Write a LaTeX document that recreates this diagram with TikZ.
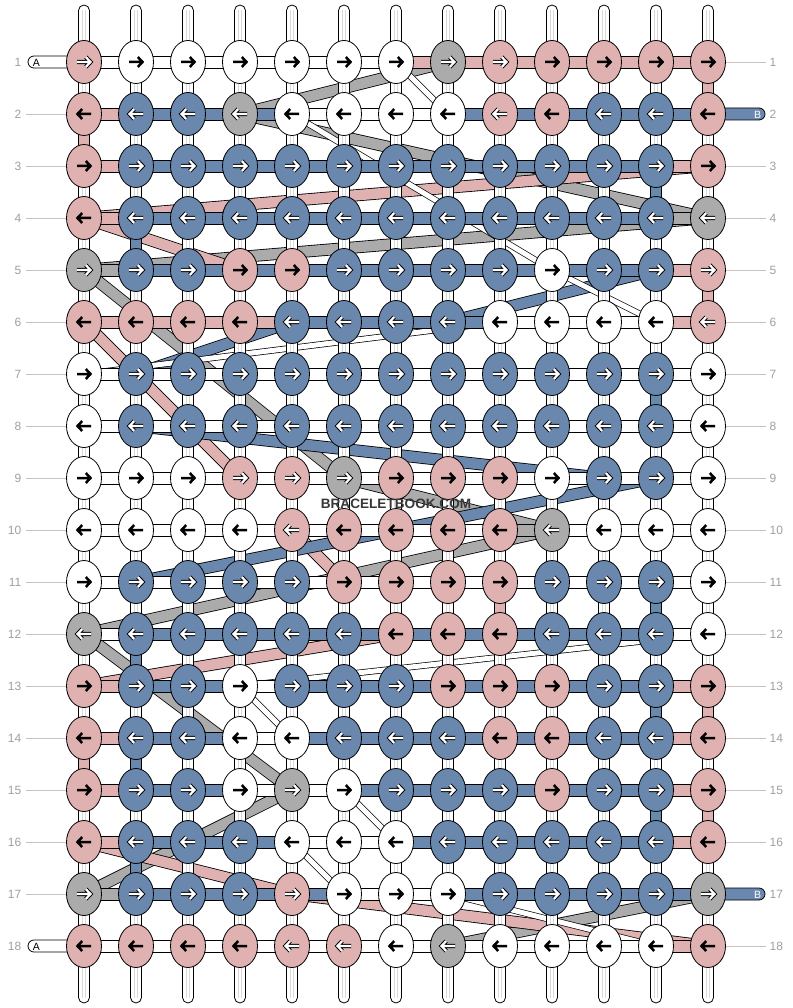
\documentclass[tikz,border=0pt]{standalone}
\usepackage{fontspec}
\setmainfont{Liberation Sans}
\usetikzlibrary{shapes.geometric,calc}
\definecolor{pk}{HTML}{DFB1B0}
\definecolor{bl}{HTML}{6A87AE}
\definecolor{gy}{HTML}{ABABAB}
\definecolor{lbl}{HTML}{A0A0A0}
\definecolor{lblline}{HTML}{C4C4C4}
\definecolor{tubeln}{HTML}{D8D8D8}
\begin{document}
\begin{tikzpicture}[x=1pt,y=-1pt,
  knot/.style={ellipse,draw=black,line width=0.8pt,minimum width=35pt,minimum height=43pt,inner sep=0pt},
  kP/.style={knot,fill=pk}, kQ/.style={knot,fill=pk}, kW/.style={knot,fill=white},
  kB/.style={knot,fill=bl}, kG/.style={knot,fill=gy},
  aP/.style={draw=black,line width=2.5pt},
  aW/.style={aP},
  aQ/.style={preaction={draw=black,line width=4.2pt},draw=white,line width=2.2pt},
  aB/.style={aQ}, aG/.style={aQ},
  hW/.style={fill=white,draw=black,line width=0.8pt},
  hP/.style={fill=pk,draw=black,line width=0.8pt},
  hB/.style={fill=bl,draw=black,line width=0.8pt},
  hG/.style={fill=gy,draw=black,line width=0.8pt},
  band/.style={draw=black,line width=0.8pt,double=#1,double distance=10.5pt},
  wband/.style={draw=black,line width=0.7pt,double=white,double distance=5pt},
  rowlbl/.style={text=lbl,font=\fontsize{12}{12}\selectfont,inner sep=0pt},
  rline/.style={draw=lblline,line width=0.8pt},
  tabW/.style={fill=white,draw=black,line width=0.8pt,rounded corners=6pt},
  tabB/.style={fill=bl,draw=black,line width=0.8pt,rounded corners=6pt}
]
\useasboundingbox (0,0) rectangle (792,1008);
\fill[white] (0,0) rectangle (792,1008);

% grid positions
\foreach \r in {1,...,18}{
  \foreach \c in {1,...,13}{
    \coordinate (p-\r-\c) at ({84+52*(\c-1)},{62+52*(\r-1)});
  }
}

% diagonal strings (behind everything)
\foreach \ra/\ca/\rb/\cb/\col in {
  1/8/2/4/gy, 2/4/4/13/gy, 4/13/5/1/gy, 5/1/9/6/gy, 9/6/10/10/gy,
  10/10/12/1/gy, 12/1/15/5/gy, 15/5/17/1/gy, 17/13/18/8/gy,
  3/13/4/1/pk, 4/1/5/4/pk, 6/1/9/4/pk, 10/5/11/6/pk, 12/7/13/1/pk,
  16/1/17/5/pk, 17/5/18/13/pk,
  5/12/6/8/bl, 6/5/7/2/bl, 8/2/9/11/bl, 9/12/11/2/bl}{
  \draw[band=\col] (p-\ra-\ca) -- (p-\rb-\cb);
}
\foreach \ra/\ca/\rb/\cb in {
  1/7/2/8, 2/5/5/10, 5/10/6/12, 6/9/7/1, 12/13/13/4, 13/4/14/5,
  15/6/16/7, 16/5/17/6, 17/8/18/12}{
  \draw[wband] (p-\ra-\ca) -- (p-\rb-\cb);
}

% vertical base strings
\foreach \c in {1,...,13}{
  \coordinate (tt-\c) at ({84+52*(\c-1)-5.5},5);
  \coordinate (tb-\c) at ({84+52*(\c-1)+5.5},1003);
  \draw[fill=white,draw=black,line width=0.8pt,rounded corners=5.5pt] (tt-\c) rectangle (tb-\c);
  \draw[tubeln,line width=0.6pt] ([xshift=4pt,yshift=-5pt]tt-\c) -- ([xshift=-7pt,yshift=5pt]tb-\c);
  \draw[tubeln,line width=0.6pt] ([xshift=7pt,yshift=-5pt]tt-\c) -- ([xshift=-4pt,yshift=5pt]tb-\c);
}

% start / end tabs
\draw[tabW] (28,56) rectangle (84,68);
\node[font=\fontsize{10.5}{10.5}\selectfont,inner sep=0pt] (tabA1) at (36.5,62.5) {A};
\draw[tabW] (28,940) rectangle (84,952);
\node[font=\fontsize{10.5}{10.5}\selectfont,inner sep=0pt] (tabA18) at (36.5,946.5) {A};
\draw[tabB] (708,108) rectangle (765,120);
\node[font=\fontsize{10.5}{10.5}\selectfont,text=white,inner sep=0pt] (tabB2) at (757.5,114.5) {B};
\draw[tabB] (708,888) rectangle (765,900);
\node[font=\fontsize{10.5}{10.5}\selectfont,text=white,inner sep=0pt] (tabB17) at (757.5,894.5) {B};

% horizontal segments
\foreach \r/\row in {
  1/{W,W,W,W,W,W,P,P,P,P,P,P},
  2/{P,B,B,B,W,W,W,B,B,B,B,B},
  3/{P,B,B,B,B,B,B,B,B,B,B,P},
  4/{P,B,B,B,B,B,B,B,B,B,B,G},
  5/{G,B,B,B,B,B,B,B,B,B,B,P},
  6/{P,P,P,P,B,B,B,B,W,W,W,P},
  7/{W,W,W,W,W,W,W,W,W,W,W,W},
  8/{W,W,W,W,W,W,W,W,W,W,W,W},
  9/{W,W,W,W,W,W,W,W,W,W,W,W},
  10/{W,W,W,W,W,W,W,W,G,W,W,W},
  11/{W,W,W,W,W,W,W,W,W,W,W,W},
  12/{W,B,B,B,B,B,B,B,B,B,B,W},
  13/{P,B,B,W,B,B,B,B,B,B,B,P},
  14/{P,B,B,W,B,B,B,B,B,B,B,P},
  15/{P,B,B,W,W,B,B,B,B,B,B,P},
  16/{P,B,B,B,W,W,B,B,B,B,B,P},
  17/{G,B,B,B,B,W,W,B,B,B,B,B},
  18/{W,W,W,W,W,W,W,W,W,W,W,P}}{
  \foreach \k [count=\c] in \row {
    \pgfmathtruncatemacro\cn{\c+1}
    \path[h\k] ([yshift=6pt]p-\r-\c) rectangle ([yshift=-6pt]p-\r-\cn);
  }
}

% vertical coloured segments
\foreach \r/\c/\k in {1/13/P, 2/1/P, 5/13/P, 11/9/P, 13/13/P, 14/1/P, 15/13/P,
  3/12/B, 4/2/B, 7/12/B, 11/12/B, 12/2/B, 13/12/B, 14/2/B, 15/12/B, 16/2/B}{
  \pgfmathtruncatemacro\rn{\r+1}
  \path[h\k] ([xshift=-5.5pt]p-\r-\c) rectangle ([xshift=5.5pt]p-\rn-\c);
}

% knots with arrows
\foreach \r/\row in {
  1/{Q,W,W,W,W,W,W,G,Q,P,P,P,P},
  2/{P,B,B,G,W,W,W,W,Q,P,B,B,P},
  3/{P,B,B,B,B,B,B,B,B,B,B,B,P},
  4/{P,B,B,B,B,B,B,B,B,B,B,B,G},
  5/{G,B,B,P,P,B,B,B,B,W,B,B,Q},
  6/{P,P,P,P,B,B,B,B,W,W,W,W,Q},
  7/{W,B,B,B,B,B,B,B,B,B,B,B,W},
  8/{W,B,B,B,B,B,B,B,B,B,B,B,W},
  9/{W,W,W,Q,Q,G,P,P,P,W,B,B,W},
  10/{W,W,W,W,Q,P,P,P,P,G,W,W,W},
  11/{W,B,B,B,B,P,P,P,P,B,B,B,W},
  12/{G,B,B,B,B,B,P,P,P,B,B,B,W},
  13/{P,B,B,W,B,B,B,P,P,P,B,B,P},
  14/{P,B,B,W,W,B,B,B,P,P,B,B,P},
  15/{P,B,B,W,G,W,B,B,B,P,B,B,P},
  16/{P,B,B,B,W,W,W,B,B,B,B,B,P},
  17/{G,B,B,B,Q,W,W,W,B,B,B,B,G},
  18/{P,P,P,P,Q,Q,W,G,W,W,W,W,P}}{
  \pgfmathtruncatemacro\dir{ifthenelse(mod(\r,2)==1,1,-1)}
  \foreach \k [count=\c] in \row {
    \node[k\k] (k-\r-\c) at (p-\r-\c) {};
    \begin{scope}[shift={(p-\r-\c)},xscale=\dir]
      \draw[a\k] (-7,0) -- (6.5,0) (1.8,-5) -- (6.5,0) -- (1.8,5);
    \end{scope}
  }
}

% row labels
\foreach \r in {1,...,18}{
  \node[rowlbl,anchor=east] (ll-\r) at (21.5,{62.5+52*(\r-1)}) {\r};
  \node[rowlbl,anchor=west] (rl-\r) at (769.5,{62.5+52*(\r-1)}) {\r};
  \coordinate (rx-\r) at (766,{62+52*(\r-1)});
  \coordinate (lx-\r) at (26,{62+52*(\r-1)});
}
\foreach \r in {2,...,17}{ \draw[rline] (lx-\r) -- (k-\r-1); }
\foreach \r in {1,3,4,5,6,7,8,9,10,11,12,13,14,15,16,18}{ \draw[rline] (k-\r-13) -- (rx-\r); }

% watermark
\node[font=\bfseries\fontsize{13.6}{14}\selectfont,text=black!78,inner sep=0pt] (wm) at (396,503.5) {BRACELETBOOK.COM};
\end{tikzpicture}
\end{document}
